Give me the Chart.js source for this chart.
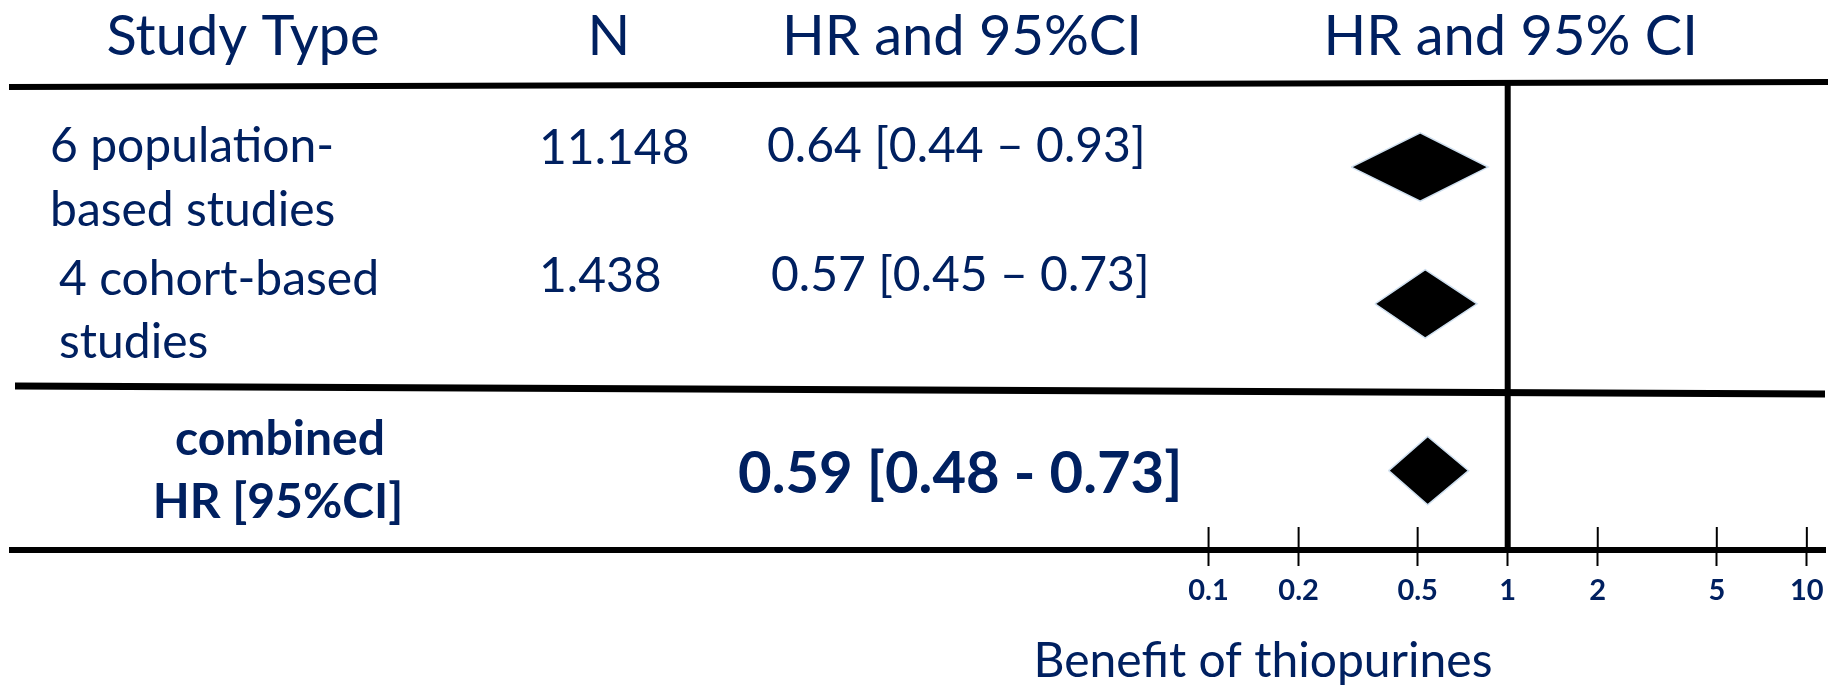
<!DOCTYPE html>
<html>
<head>
<meta charset="utf-8">
<script src="https://cdn.jsdelivr.net/npm/chart.js@4"></script>
<style>
    html, body { margin: 0; padding: 0; background: #fff; }
    .chart-box { width: 1837px; height: 686px; position: relative; }
</style>
</head>
<body>
<div class="chart-box"><canvas id="forestChart"></canvas></div>
<script>
// Data
const headers = ['Study Type', 'N', 'HR and 95%CI', 'HR and 95% CI'];
const studyLabels = [['6 population-', 'based studies'], ['4 cohort-based', 'studies'], ['combined', 'HR [95%CI]']];
const nValues = ['11.148', '1.438', ''];
const hrTexts = ['0.64 [0.44 \u2013 0.93]', '0.57 [0.45 \u2013 0.73]', '0.59 [0.48 - 0.73]'];
// diamond extents as drawn in the picture (log scale)
const diamondLow = [0.30, 0.36, 0.40];
const diamondMid = [0.51, 0.53, 0.54];
const diamondHigh = [0.86, 0.79, 0.74];
const tickValues = [0.1, 0.2, 0.5, 1, 2, 5, 10];
const axisTitle = 'Benefit of thiopurines';

// Layout
const NAVY = '#002060';
const FONT = "Lato, 'Open Sans', sans-serif";
const rowPos = [0.6, 1.6, 2.82];
const sepPos = 2.23;
const halfH = 0.25;

const diamondSets = diamondMid.map((mid, i) => ({
    data: [
        { x: diamondLow[i], y: rowPos[i] },
        { x: mid, y: rowPos[i] - halfH },
        { x: diamondHigh[i], y: rowPos[i] },
        { x: mid, y: rowPos[i] + halfH },
        { x: diamondLow[i], y: rowPos[i] }
    ],
    showLine: true,
    fill: 'shape',
    backgroundColor: '#000',
    borderColor: '#cfe0f0',
    borderWidth: 1.5,
    pointRadius: 0,
    tension: 0
}));

const nullLine = {
    data: [{ x: 1, y: 0 }, { x: 1, y: 3.4 }],
    showLine: true,
    borderColor: '#000',
    borderWidth: 6,
    pointRadius: 0,
    fill: false
};

function text(ctx, str, x, y, size, weight, align) {
    ctx.font = `${weight} ${size}px ${FONT}`;
    ctx.textAlign = align;
    ctx.textBaseline = 'alphabetic';
    ctx.fillStyle = NAVY;
    ctx.fillText(str, x, y);
}

const tablePlugin = {
    id: 'table',
    afterDraw(chart) {
        const { ctx, chartArea: a, scales: { x, y } } = chart;
        ctx.save();

        // rules
        ctx.strokeStyle = '#000';
        ctx.lineWidth = 6;
        ctx.beginPath();
        ctx.moveTo(a.left - 3, a.top + 2);
        ctx.lineTo(a.right + 3, a.top - 3);
        ctx.stroke();
        ctx.lineWidth = 7;
        const sy = y.getPixelForValue(sepPos);
        ctx.beginPath();
        ctx.moveTo(a.left + 3, sy - 4);
        ctx.lineTo(a.right, sy + 4);
        ctx.stroke();

        // upper stubs of the tick marks
        ctx.lineWidth = 2;
        tickValues.forEach(v => {
            if (v === 1) return;
            const px = x.getPixelForValue(v);
            ctx.beginPath();
            ctx.moveTo(px, a.bottom - 23);
            ctx.lineTo(px, a.bottom);
            ctx.stroke();
        });

        // headers
        const headerX = [243, 609, 962, x.getPixelForValue(1) + 3];
        headers.forEach((h, i) => text(ctx, h, headerX[i], 55, 56, 'normal', 'center'));

        // rows
        text(ctx, studyLabels[0][0], 50, 162, 48, 'normal', 'left');
        text(ctx, studyLabels[0][1], 50, 226, 48, 'normal', 'left');
        text(ctx, studyLabels[1][0], 59, 295, 48, 'normal', 'left');
        text(ctx, studyLabels[1][1], 59, 358, 48, 'normal', 'left');
        text(ctx, studyLabels[2][0], 280, 455, 48, 'bold', 'center');
        text(ctx, studyLabels[2][1], 278, 518, 48, 'bold', 'center');

        text(ctx, nValues[0], 539, 164, 48, 'normal', 'left');
        text(ctx, nValues[1], 539, 292, 48, 'normal', 'left');

        text(ctx, hrTexts[0], 767, 162, 48, 'normal', 'left');
        text(ctx, hrTexts[1], 771, 291, 48, 'normal', 'left');
        text(ctx, hrTexts[2], 738, 493, 58, 'bold', 'left');

        // axis title
        text(ctx, axisTitle, 1263, 677, 48, 'normal', 'center');
        ctx.restore();
    }
};

new Chart(document.getElementById('forestChart'), {
    type: 'scatter',
    data: { datasets: [...diamondSets, nullLine] },
    plugins: [tablePlugin],
    options: {
        responsive: true,
        maintainAspectRatio: false,
        animation: false,
        events: [],
        layout: { padding: { left: 12, right: 12, top: 85, bottom: 0 } },
        plugins: { legend: { display: false }, tooltip: { enabled: false } },
        scales: {
            x: {
                type: 'logarithmic',
                min: 1e-5,
                max: 11.5,
                afterBuildTicks: (scale) => {
                    scale.ticks = tickValues.map(v => ({ value: v }));
                },
                afterFit: (scale) => { scale.height = 136; },
                grid: {
                    display: true,
                    drawOnChartArea: false,
                    drawTicks: true,
                    tickLength: 16,
                    tickWidth: 2,
                    tickColor: '#000'
                },
                border: { display: true, color: '#000', width: 6 },
                ticks: {
                    color: NAVY,
                    padding: 7,
                    maxRotation: 0,
                    autoSkip: false,
                    font: { family: FONT, size: 29, weight: 'bold' },
                    callback: (v) => String(v)
                }
            },
            y: {
                type: 'linear',
                reverse: true,
                min: 0,
                max: 3.4,
                display: false
            }
        }
    }
});
</script>
</body>
</html>
